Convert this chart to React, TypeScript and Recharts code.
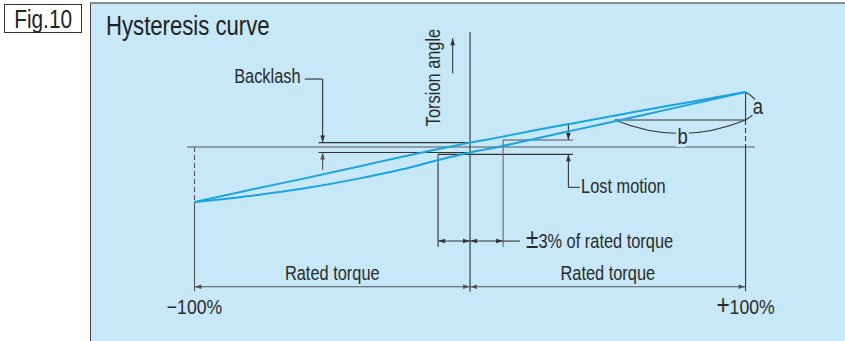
import React from 'react';
import { LineChart, Line, XAxis, YAxis, ReferenceLine, ReferenceDot } from 'recharts';

// torque in % of rated torque, torsion angle in % of the angle at rated torque
const torque = [-100, -80, -60, -40, -25, -11, 0, 11, 20, 40, 60, 80, 100];
const angleLoading = [-100, -78, -57, -35, -18, -3, 8, 18, 27, 45.5, 64, 82, 100];
const angleUnloading = [-100, -89, -75, -57, -41, -23, -10, 1, 11, 33, 55, 77.5, 100];
const endLabels = ['−100%', '100%'];

const data = torque.map((t, i) => ({ t, up: angleLoading[i], down: angleUnloading[i] }));

const W = 845;
const H = 341;
const BLUE = '#1ba3df';
const INK = '#333';
const PANEL = '#c7e8f8';
const FONT = "'Liberation Sans', Arial, Helvetica, sans-serif";
const SX = 0.84; // condensed look

let k = 0;

const lineShape = (o: any) => (p: any) => {
  const { x1, y1, x2, y2 } = p;
  const dx = x2 - x1;
  const dy = y2 - y1;
  const len = Math.hypot(dx, dy) || 1;
  const ux = dx / len;
  const uy = dy / len;
  const head = (x: number, y: number, vx: number, vy: number) => {
    const L = 7;
    const w = 2.3;
    const bx = x - vx * L;
    const by = y - vy * L;
    return `${x},${y} ${bx - vy * w},${by + vx * w} ${bx + vy * w},${by - vx * w}`;
  };
  const col = o.color || INK;
  return (
    <g>
      <line x1={x1} y1={y1} x2={x2} y2={y2} stroke={col} strokeWidth={o.w || 1.1}
        strokeDasharray={o.dash} />
      {o.end && <polygon points={head(x2, y2, ux, uy)} fill={col} />}
      {o.start && <polygon points={head(x1, y1, -ux, -uy)} fill={col} />}
    </g>
  );
};

const seg = (x1: number, y1: number, x2: number, y2: number, o: any = {}) => (
  <ReferenceLine key={'s' + k++} segment={[{ x: x1, y: y1 }, { x: x2, y: y2 }]}
    ifOverflow="visible" shape={lineShape(o)} />
);

const arc = (x1: number, y1: number, x2: number, y2: number, ox: number, oy: number) => (
  <ReferenceLine key={'a' + k++} segment={[{ x: x1, y: y1 }, { x: x2, y: y2 }]}
    ifOverflow="visible"
    shape={(p: any) => {
      const mx = (p.x1 + p.x2) / 2 + ox;
      const my = (p.y1 + p.y2) / 2 + oy;
      return <path d={`M${p.x1},${p.y1} Q${mx},${my} ${p.x2},${p.y2}`} fill="none" stroke={INK} strokeWidth={1.1} />;
    }} />
);

const note = (x: number, y: number, text: React.ReactNode, o: any = {}) => (
  <ReferenceDot key={'n' + k++} x={x} y={y} r={0} ifOverflow="visible"
    shape={(p: any) => (
      <text x={0} y={0} textAnchor={o.anchor || 'start'} fontSize={o.size || 19.5}
        fontFamily={FONT} fill="#2a2a2a"
        dominantBaseline={o.baseline}
        transform={`translate(${p.cx},${p.cy}) rotate(${o.rotate || 0}) scale(${SX},1)`}
        stroke={o.knock ? PANEL : undefined} strokeWidth={o.knock ? 6 : undefined}
        paintOrder="stroke">
        {text}
      </text>
    )} />
);

export default function App() {
  k = 0;
  return (
    <div style={{ position: 'absolute', left: 0, top: 0, width: W, height: H, background: '#fff', overflow: 'hidden' }}>
      <div style={{
        position: 'absolute', left: 4, top: 4, width: 76, height: 27, border: `1px solid ${INK}`,
        fontFamily: FONT, fontSize: 26, lineHeight: '28px', textAlign: 'center', color: '#222'
      }}>
        <span style={{ display: 'inline-block', transform: `scaleX(0.8)` }}>Fig.10</span>
      </div>
      <div style={{
        position: 'absolute', left: 90, top: 2, right: 0, bottom: 0, background: PANEL,
        borderTop: '2px solid #8c8c8c', borderLeft: '1px solid #444'
      }} />
      <div style={{
        position: 'absolute', left: 106, top: 11, fontFamily: FONT, fontSize: 27,
        lineHeight: '31px', color: '#222', transform: `scaleX(0.82)`, transformOrigin: 'left top',
        whiteSpace: 'nowrap'
      }}>Hysteresis curve</div>
      <div style={{ position: 'absolute', left: 0, top: 0 }}>
        <LineChart width={W} height={H} data={data} margin={{ top: 0, right: 0, bottom: 0, left: 0 }}>
          <XAxis type="number" dataKey="t" domain={[-170.6, 136.1]} hide allowDataOverflow />
          <YAxis type="number" domain={[-352.7, 267.3]} hide allowDataOverflow />

          {/* axes and extension lines */}
          {seg(-102.7, 0, 103.4, 0, { color: '#555' })}
          {seg(0, 209, 0, -263)}
          {seg(-100, 0, -100, -100, { dash: '5 3', color: '#555' })}
          {seg(-100, -100, -100, -262, { color: '#555' })}
          {seg(100, 100, 100, 49)}
          {seg(100, 49, 100, 0, { dash: '5 3' })}
          {seg(100, 0, 100, -262)}
          {seg(52.6, 49, 100, 49)}

          {/* backlash */}
          {seg(-55, 8, 0, 8)}
          {seg(-55, -10, 0, -10)}
          {seg(-60, 123.6, -53.5, 123.6)}
          {seg(-53.5, 123.6, -53.5, 8, { end: true })}
          {seg(-53.5, -42, -53.5, -10, { end: true, color: '#555' })}

          {/* lost motion */}
          {seg(12, 12.7, 37.4, 12.7, { color: '#555' })}
          {seg(-11.6, -13.3, 37.4, -13.3)}
          {seg(-11.6, -13.3, -11.6, -182)}
          {seg(12, 12.7, 12, -182, { color: '#666' })}
          {seg(35.7, 43.6, 35.7, 12.7, { end: true })}
          {seg(35.7, -73.3, 35.7, -13.3, { end: true })}
          {seg(35.7, -73.3, 39.9, -73.3)}

          {/* ±3% and rated torque dimensions */}
          {seg(-11.6, -171, 0, -171, { start: true, end: true })}
          {seg(0, -171, 12, -171, { start: true, end: true })}
          {seg(12, -171, 18.1, -171)}
          {seg(-100, -254, 0, -254, { start: true, end: true, color: '#555' })}
          {seg(0, -254, 100, -254, { start: true, end: true, color: '#555' })}

          {/* torsion angle arrow */}
          {seg(-6.3, 134, -6.3, 197.6, { end: true })}

          {/* a / b arcs */}
          {arc(100, 100, 100, 49, 24, 0)}
          {arc(52.6, 49, 100, 49, 0, 27)}

          <Line dataKey="up" type="monotone" stroke={BLUE} strokeWidth={2} dot={false} activeDot={false} isAnimationActive={false} />
          <Line dataKey="down" type="monotone" stroke={BLUE} strokeWidth={2} dot={false} activeDot={false} isAnimationActive={false} />

          {note(104.5, 73.3, 'a', { anchor: 'middle', baseline: 'central', knock: true, size: 22 })}
          {note(77.2, 20, 'b', { anchor: 'middle', baseline: 'central', knock: true, size: 22 })}
          {note(-61.5, 116, 'Backlash', { anchor: 'end' })}
          {note(40.3, -84.5, 'Lost motion')}
          {note(20.3, -184, <><tspan fontSize={27}>±</tspan>3% of rated torque</>)}
          {note(-50, -242, 'Rated torque', { anchor: 'middle' })}
          {note(50, -242, 'Rated torque', { anchor: 'middle' })}
          {note(-100, -304, endLabels[0], { anchor: 'middle', size: 21 })}
          {note(100, -304, <><tspan fontSize={27}>+</tspan>{endLabels[1]}</>, { anchor: 'middle', size: 21 })}
          {note(-13.2, 126.4, 'Torsion angle', { anchor: 'middle', baseline: 'central', rotate: -90 })}
        </LineChart>
      </div>
    </div>
  );
}
